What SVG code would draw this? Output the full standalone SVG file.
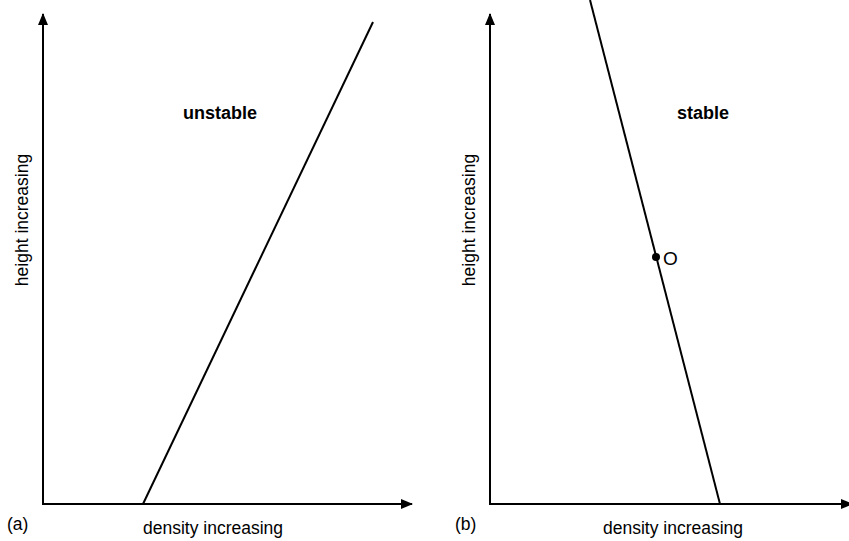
<svg xmlns="http://www.w3.org/2000/svg" width="849" height="541" viewBox="0 0 849 541">
<style>
  .ax{stroke:#000;stroke-width:2;fill:none}
  .ln{stroke:#000;stroke-width:2;fill:none}
  .t{font-family:"Liberation Sans",Arial,sans-serif;font-size:17.5px;fill:#000}
  .b{font-family:"Liberation Sans",Arial,sans-serif;font-size:18px;font-weight:bold;fill:#000}
</style>
<defs>
  <marker id="ah" viewBox="0 0 12 10" refX="11" refY="5" markerWidth="12" markerHeight="10" markerUnits="userSpaceOnUse" orient="auto">
    <path d="M0,0 L12,5 L0,10 Z" fill="#000"/>
  </marker>
</defs>
<rect width="849" height="541" fill="#fff"/>
<g id="panel-a">
  <g id="axes-a">
    <line class="ax" x1="43" y1="504" x2="43" y2="14" marker-end="url(#ah)"/>
    <line class="ax" x1="42" y1="504" x2="412" y2="504" marker-end="url(#ah)"/>
  </g>
  <line id="profile-a" class="ln" x1="143" y1="504" x2="373" y2="22"/>
  <text class="b" x="183" y="119">unstable</text>
  <text class="t" x="0" y="0" transform="translate(28,220) rotate(-90)" text-anchor="middle">height increasing</text>
  <text class="t" x="143" y="534">density increasing</text>
  <text class="t" x="7" y="530">(a)</text>
</g>
<g id="panel-b">
  <g id="axes-b">
    <line class="ax" x1="490" y1="504" x2="490" y2="14" marker-end="url(#ah)"/>
    <line class="ax" x1="489" y1="504" x2="852" y2="504" marker-end="url(#ah)"/>
  </g>
  <line id="profile-b" class="ln" x1="590" y1="0" x2="720" y2="504"/>
  <g id="point-O">
    <circle cx="656" cy="257" r="4" fill="#000"/>
    <text class="t" x="663" y="265" style="font-size:19px">O</text>
  </g>
  <text class="b" x="677" y="119">stable</text>
  <text class="t" x="0" y="0" transform="translate(475,220) rotate(-90)" text-anchor="middle">height increasing</text>
  <text class="t" x="603" y="534">density increasing</text>
  <text class="t" x="455" y="530">(b)</text>
</g>
</svg>
